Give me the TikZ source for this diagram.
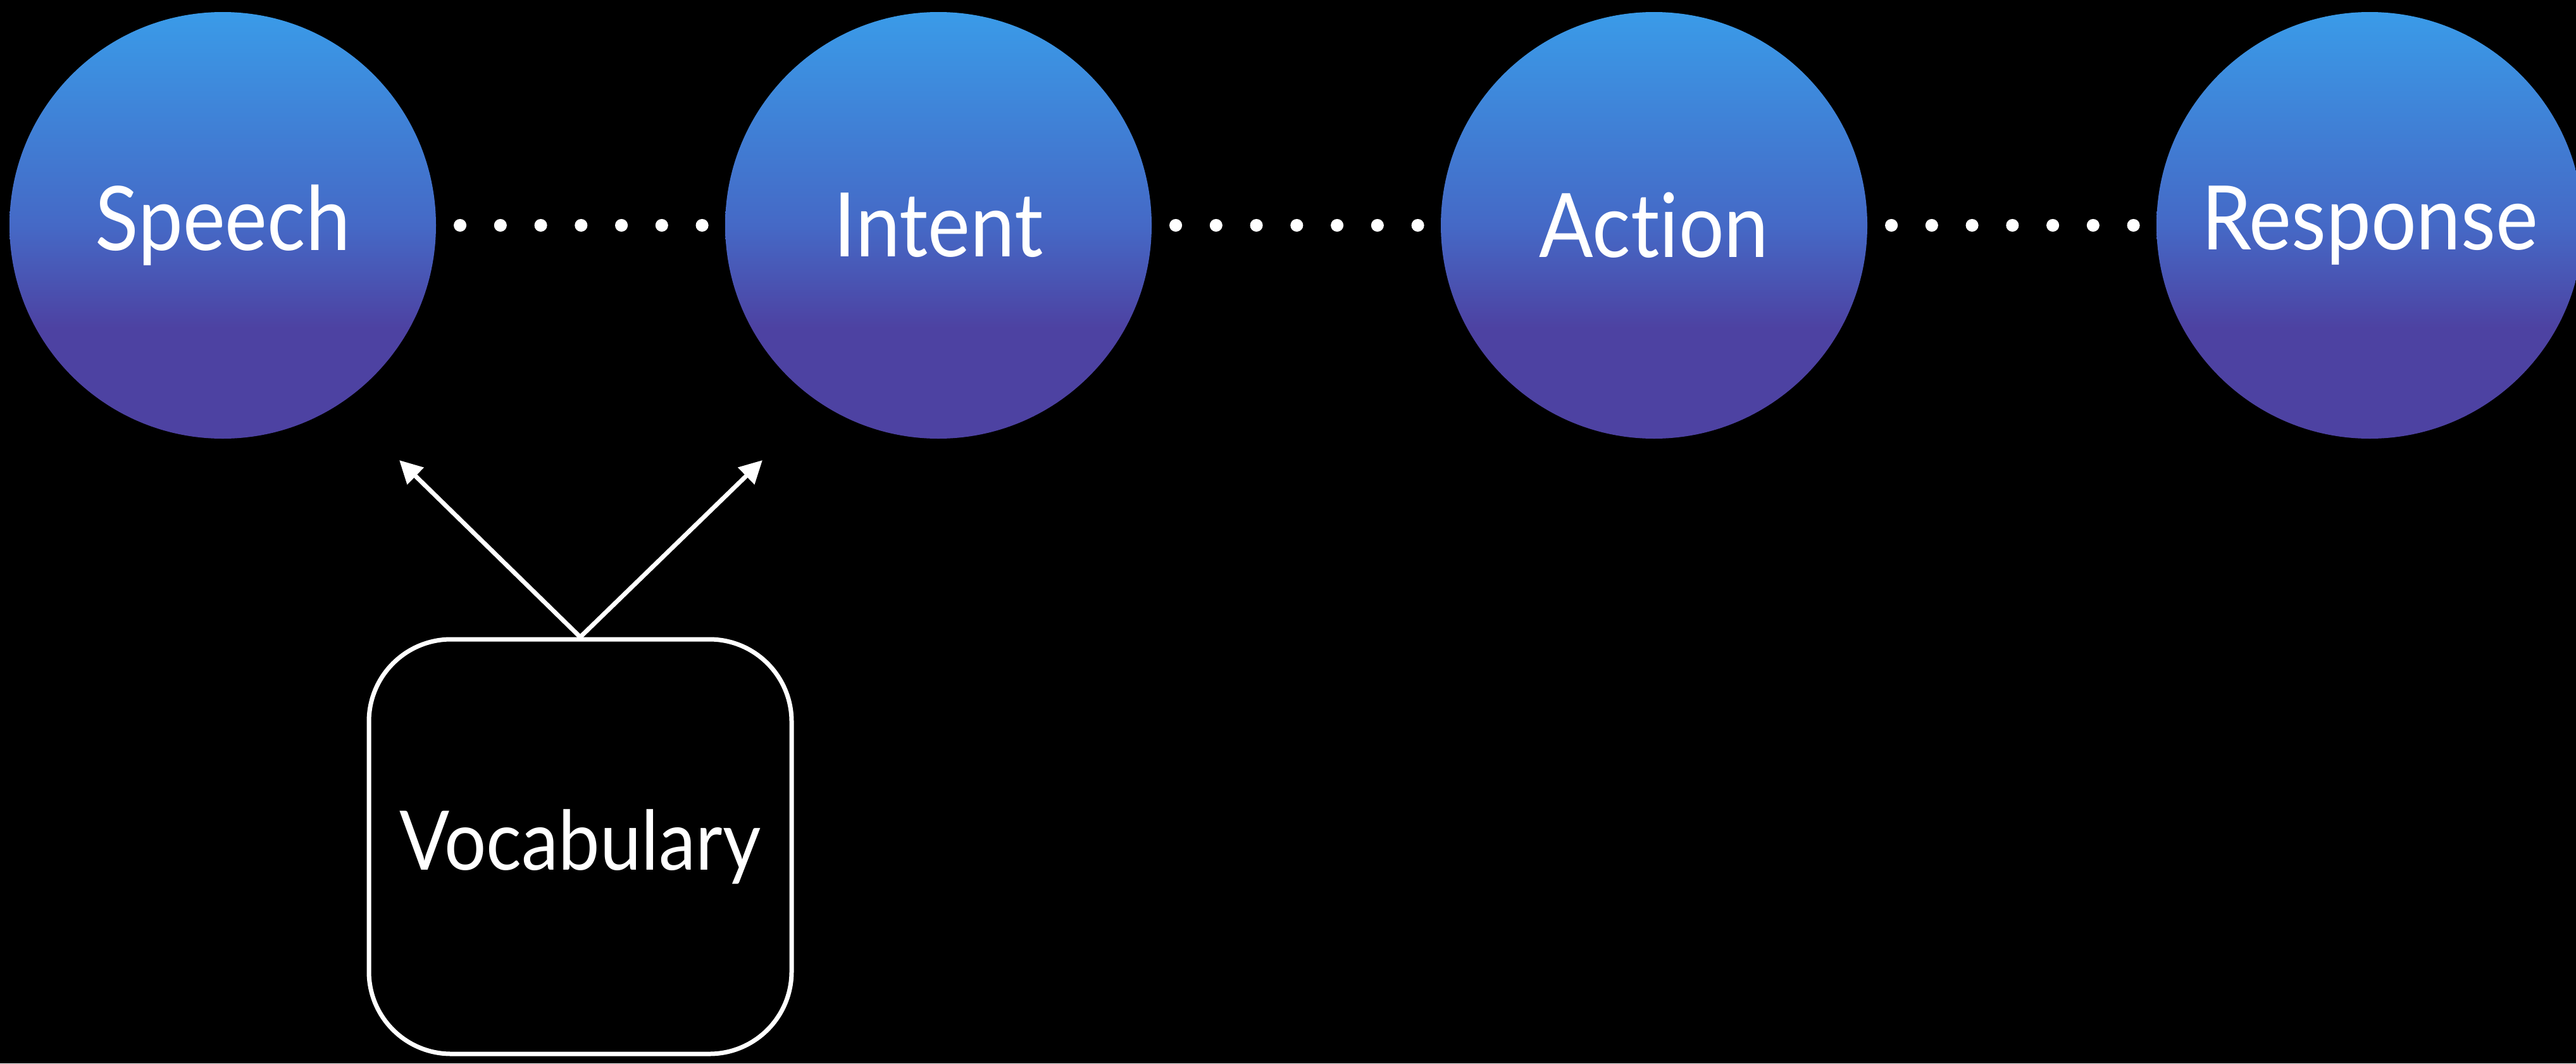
\documentclass[tikz,border=0pt]{standalone}
\usepackage{fontspec}
\setmainfont{Lato}[Ligatures=NoCommon, FakeStretch=0.9]
\usetikzlibrary{calc, arrows.meta}
\definecolor{stepblue}{RGB}{58,155,232}
\definecolor{stepmid}{RGB}{69,105,198}
\definecolor{steppurple}{RGB}{77,66,162}
\pgfdeclareverticalshading{stageshade}{100bp}{color(0bp)=(steppurple); color(25bp)=(steppurple);
    color(38bp)=(steppurple); color(50bp)=(stepmid); color(75bp)=(stepblue); color(100bp)=(stepblue)}
\tikzstyle{stagecircle} = [circle, minimum size=6.74cm, inner sep=0pt, text centered,
    shading=stageshade, text=white, font=\fontsize{40}{40}\selectfont]
\tikzstyle{vocabrect} = [rectangle, rounded corners=1.3cm, minimum width=6.68cm,
    minimum height=6.55cm, text centered, draw=white, line width=0.07cm,
    text=white, font=\fontsize{37}{37}\selectfont]
\tikzstyle{dotline} = [white, line width=0.194cm, line cap=round,
    dash pattern=on 0.2pt off 17.94pt]
\tikzstyle{arrow} = [white, line width=0.07cm, -{Triangle[length=0.36cm, width=0.36cm]}]

\begin{document}
\begin{tikzpicture}[node distance=11.31cm]
                    \fill[black] (0,0) rectangle (40.71,-16.80);
                    \useasboundingbox (0,0) rectangle (40.71,-16.80);

                    % stage nodes
                    \node (Speech) [stagecircle] at (3.52,-3.56) {Speech};
                    \node (Intent) [stagecircle, right of=Speech] {Intent};
                    \node (Action) [stagecircle, right of=Intent] {Action};
                    \node (Response) [stagecircle, right of=Action] {Response};

                    % vocabulary node
                    \node (Vocabulary) [vocabrect] at (9.17,-13.375) {Vocabulary};

                    \coordinate (SpeechTip) at (6.31,-7.27);
                    \coordinate (IntentTip) at (12.05,-7.27);

                    % dotted links
                    \draw [dotline] ([xshift=0.37cm]Speech.east) -- ([xshift=-0.34cm]Intent.west);
                    \draw [dotline] ([xshift=0.37cm]Intent.east) -- ([xshift=-0.34cm]Action.west);
                    \draw [dotline] ([xshift=0.37cm]Action.east) -- ([xshift=-0.34cm]Response.west);

                    % arrows
                    \draw [arrow] (Vocabulary.north) -- (SpeechTip);
                    \draw [arrow] (Vocabulary.north) -- (IntentTip);
                \end{tikzpicture}
\end{document}
